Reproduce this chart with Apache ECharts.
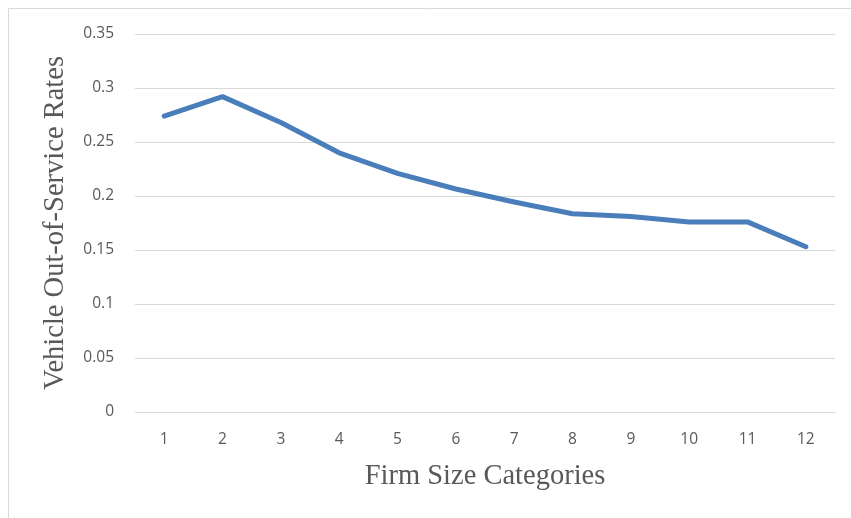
<!DOCTYPE html>
<html>
<head>
<meta charset="utf-8">
<script src="https://cdn.jsdelivr.net/npm/echarts@6/dist/echarts.min.js"></script>
<style>
html,body{margin:0;padding:0;background:#fff;}
#chart{width:851px;height:518px;}
</style>
</head>
<body>
<div id="chart"></div>
<script>
const categories = ['1','2','3','4','5','6','7','8','9','10','11','12'];
const outOfServiceRates = [0.274, 0.292, 0.268, 0.240, 0.221, 0.2065, 0.1945, 0.1835, 0.181, 0.176, 0.176, 0.153];
const yTicks = { min: 0, max: 0.35, interval: 0.05 };

const chart = echarts.init(document.getElementById('chart'));
chart.setOption({
  animation: false,
  backgroundColor: '#ffffff',
  graphic: [{
    type: 'rect',
    shape: { x: 8.5, y: 8.5, width: 850, height: 520 },
    style: { fill: 'none', stroke: '#d9d9d9', lineWidth: 1 },
    silent: true
  }],
  grid: { left: 135, right: 16, top: 34, bottom: 106, containLabel: false },
  xAxis: {
    type: 'category',
    data: categories,
    boundaryGap: true,
    axisLine: { show: true, lineStyle: { color: '#d9d9d9', width: 1 } },
    axisTick: { show: false },
    axisLabel: { color: '#595959', fontSize: 15.5, fontFamily: 'Open Sans', margin: 20 },
    name: 'Firm Size Categories',
    nameLocation: 'middle',
    nameGap: 50,
    nameTextStyle: { color: '#595959', fontSize: 28.5, fontFamily: 'Liberation Serif' }
  },
  yAxis: {
    type: 'value',
    min: yTicks.min,
    max: yTicks.max,
    interval: yTicks.interval,
    axisLine: { show: false },
    axisTick: { show: false },
    splitLine: { lineStyle: { color: '#d9d9d9', width: 1 } },
    axisLabel: { color: '#595959', fontSize: 15.5, fontFamily: 'Open Sans', margin: 21 },
    name: 'Vehicle Out-of-Service Rates',
    nameLocation: 'middle',
    nameGap: 65,
    nameTextStyle: { color: '#595959', fontSize: 28.5, fontFamily: 'Liberation Serif' }
  },
  series: [{
    type: 'line',
    data: outOfServiceRates,
    symbol: 'none',
    lineStyle: { color: '#4a7ebb', width: 5, join: 'round', cap: 'round' },
    itemStyle: { color: '#4a7ebb' }
  }]
});
</script>
</body>
</html>
